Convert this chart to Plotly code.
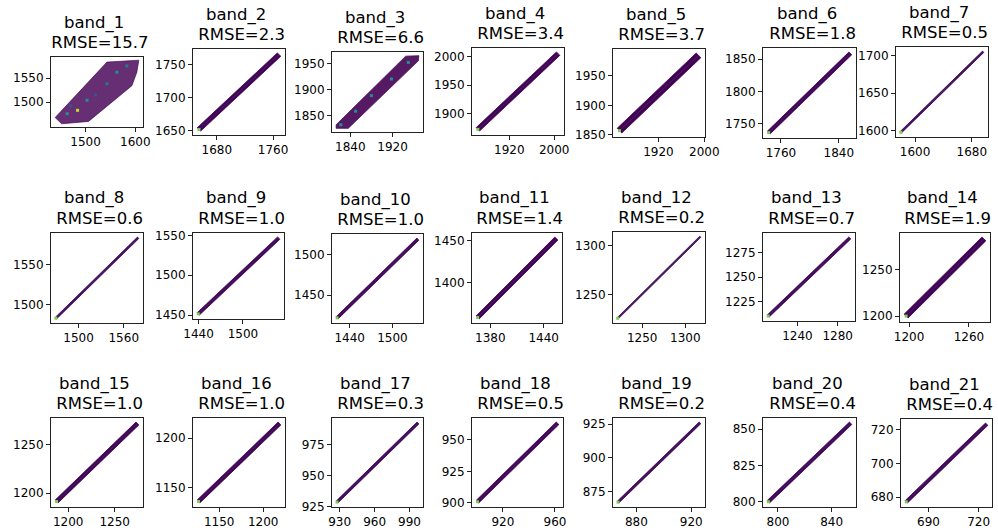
import plotly.graph_objects as go

# ---------------- data ----------------
bands = [f"band_{i}" for i in range(1, 22)]
rmse = [15.7, 2.3, 6.6, 3.4, 3.7, 1.8, 0.5,
        0.6, 1.0, 1.0, 1.4, 0.2, 0.7, 1.9,
        1.0, 1.0, 0.3, 0.5, 0.2, 0.4, 0.4]

# extent of each hexbin cloud (x = first value, y = second value)
x_lo = [1439, 1652, 1813, 1861, 1848, 1741, 1579,
        1469, 1438, 1421, 1364, 1221, 1210, 1195,
        1186, 1125, 927, 899.5, 866, 792, 676]
x_hi = [1607, 1771, 1970, 2010, 1994, 1858, 1697,
        1580, 1550, 1537, 1456, 1318, 1293, 1277,
        1276, 1220, 998, 963, 927, 855, 725.5]
y_lo = [1455, 1649, 1825, 1870, 1853, 1734, 1597,
        1482, 1450, 1421, 1357, 1225, 1209, 1198,
        1190, 1135, 928, 900, 866.5, 799, 676.6]
y_hi = [1587, 1768, 1965, 2008, 1989, 1861, 1706,
        1584, 1548, 1520, 1454, 1310, 1291, 1285,
        1273, 1216, 993, 964, 926.5, 855, 724]
# half thickness of the cloud (data units)
spread = [45, 5, 16, 6, 8, 4, 1.8,
          1.8, 3, 2.7, 3.5, 1.2, 2, 4,
          3, 3, 1.5, 2, 1.2, 1.7, 1.4]

# outlines of the two wide clouds
band1_poly_x = [1439, 1543, 1607, 1603, 1593, 1506, 1452]
band1_poly_y = [1468, 1583, 1587, 1562, 1534, 1460, 1455]
band3_poly_x = [1813, 1813, 1945, 1970, 1969, 1836]
band3_poly_y = [1825, 1832, 1964, 1965, 1955, 1825]

# denser (lighter) hexbin cells in band_1 and band_3
band1_hot_x = [1484, 1463, 1503, 1543, 1563, 1583, 1470, 1520]
band1_hot_y = [1483, 1476, 1504, 1538, 1562, 1575, 1492, 1515]
band1_hot_c = ["#bddf26", "#21918c", "#21918c", "#2a788e", "#21918c", "#2a788e", "#3b528b", "#3b528b"]
band3_hot_x = [1822, 1850, 1880, 1918, 1950]
band3_hot_y = [1832, 1858, 1888, 1920, 1952]

x_ticks = [[1500, 1600], [1680, 1760], [1840, 1920], [1920, 2000], [1920, 2000], [1760, 1840], [1600, 1680],
           [1500, 1560], [1440, 1500], [1440, 1500], [1380, 1440], [1250, 1300], [1240, 1280], [1200, 1260],
           [1200, 1250], [1150, 1200], [930, 960, 990], [920, 960], [880, 920], [800, 840], [690, 720]]
y_ticks = [[1500, 1550], [1650, 1700, 1750], [1850, 1900, 1950], [1900, 1950, 2000], [1850, 1900, 1950],
           [1750, 1800, 1850], [1600, 1650, 1700],
           [1500, 1550], [1450, 1500, 1550], [1450, 1500], [1400, 1450], [1250, 1300], [1225, 1250, 1275],
           [1200, 1250],
           [1200, 1250], [1150, 1200], [925, 950, 975], [900, 925, 950], [875, 900, 925], [800, 825, 850],
           [680, 700, 720]]

# ---------------- layout (pixel boxes of each axes) ----------------
W, H = 998, 530
BOX = [  # left, right, top, bottom
    (51, 143, 57, 127), (193, 285, 49, 135), (332, 423, 52, 132), (472, 564, 48, 135),
    (613, 705, 49, 137), (763, 856, 48, 138), (896, 988, 47, 137),
    (51, 143, 233, 323), (193, 284, 233, 319), (332, 423, 234, 323), (472, 562, 233, 323),
    (613, 705, 232, 323), (763, 855, 233, 321), (900, 990, 233, 322),
    (51, 143, 418, 507), (193, 285, 418, 507), (332, 423, 418, 507), (472, 563, 418, 507),
    (613, 705, 418, 507), (763, 856, 418, 507), (901, 992, 419, 507),
]
TITLE_GAP = 3      # px between title block and axes
TITLE_LINE = 19.5  # px between the two title lines

DARK = "#440154"
FONT = "DejaVu Sans"

fig = go.Figure()
layout = {}
annotations = []

for i in range(21):
    n = "" if i == 0 else str(i + 1)
    xa, ya = "x" + n, "y" + n
    L, R, T, B = BOX[i]

    if i == 0:
        px, py = band1_poly_x + [band1_poly_x[0]], band1_poly_y + [band1_poly_y[0]]
        xmin, xmax, ymin, ymax = min(band1_poly_x), max(band1_poly_x), min(band1_poly_y), max(band1_poly_y)
        fillc = "rgba(68,1,84,0.82)"
    elif i == 2:
        px, py = band3_poly_x + [band3_poly_x[0]], band3_poly_y + [band3_poly_y[0]]
        xmin, xmax, ymin, ymax = min(band3_poly_x), max(band3_poly_x), min(band3_poly_y), max(band3_poly_y)
        fillc = "rgba(68,1,84,0.9)"
    else:
        s = spread[i]
        px = [x_lo[i], x_lo[i] + s, x_hi[i], x_hi[i] - s, x_lo[i]]
        py = [y_lo[i] + s, y_lo[i], y_hi[i] - s, y_hi[i], y_lo[i] + s]
        xmin, xmax, ymin, ymax = x_lo[i], x_hi[i], y_lo[i], y_hi[i]
        fillc = DARK

    fig.add_trace(go.Scatter(x=px, y=py, mode="lines", fill="toself", fillcolor=fillc,
                             line=dict(color=fillc, width=0.8), xaxis=xa, yaxis=ya,
                             hoverinfo="skip", showlegend=False))
    s = spread[i]
    cx = [x_lo[i] + 0.5 * s, x_hi[i] - 0.5 * s]
    cy = [y_lo[i] + 0.5 * s, y_hi[i] - 0.5 * s]
    if i == 0:
        fig.add_trace(go.Scatter(x=band1_hot_x, y=band1_hot_y, mode="markers",
                                 marker=dict(color=band1_hot_c, size=3, symbol="square"),
                                 xaxis=xa, yaxis=ya, hoverinfo="skip", showlegend=False))
    elif i == 2:
        fig.add_trace(go.Scatter(x=band3_hot_x, y=band3_hot_y, mode="markers",
                                 marker=dict(color="#21918c", size=3, symbol="square"),
                                 xaxis=xa, yaxis=ya, hoverinfo="skip", showlegend=False))
    else:
        fig.add_trace(go.Scatter(x=cx, y=cy, mode="lines",
                                 line=dict(color="#31688e", width=0.8), opacity=0.45,
                                 xaxis=xa, yaxis=ya, hoverinfo="skip", showlegend=False))
        fig.add_trace(go.Scatter(x=[cx[0]], y=[cy[0]], mode="markers",
                                 marker=dict(color="#7ad151", size=3, symbol="square"),
                                 xaxis=xa, yaxis=ya, hoverinfo="skip", showlegend=False))

    dx, dy = 0.05 * (xmax - xmin), 0.05 * (ymax - ymin)
    common = dict(showline=True, mirror=True, linecolor="#222222", linewidth=1,
                  ticks="outside", ticklen=4, tickwidth=1, tickcolor="#222222",
                  showgrid=False, zeroline=False, automargin=False,
                  tickfont=dict(family=FONT, size=12, color="black"))
    layout["xaxis" + n] = dict(domain=[L / W, R / W], range=[xmin - dx, xmax + dx],
                               anchor=ya, tickvals=x_ticks[i], **common)
    layout["yaxis" + n] = dict(domain=[1 - B / H, 1 - T / H], range=[ymin - dy, ymax + dy],
                               anchor=xa, tickvals=y_ticks[i], **common)

    cxp = (L + R) / 2 / W
    tfont = dict(family=FONT, size=16.5, color="black")
    annotations.append(dict(x=cxp, y=1 - (T - TITLE_GAP) / H, xref="paper", yref="paper",
                            xanchor="center", yanchor="bottom", showarrow=False,
                            text=f"\u00a0RMSE={rmse[i]:.1f}", font=tfont))
    annotations.append(dict(x=cxp, y=1 - (T - TITLE_GAP - TITLE_LINE) / H, xref="paper", yref="paper",
                            xanchor="center", yanchor="bottom", showarrow=False,
                            text=f"{bands[i]}\u00a0", font=tfont))

fig.update_layout(width=W, height=H, margin=dict(l=0, r=0, t=0, b=0),
                  paper_bgcolor="white", plot_bgcolor="white",
                  annotations=annotations, **layout)

fig.write_html("out.html")
